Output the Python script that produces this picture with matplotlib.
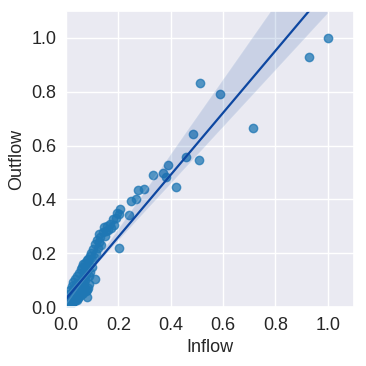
import matplotlib
matplotlib.use("Agg")
import matplotlib.pyplot as plt
import seaborn as sns
import pandas as pd

# Inflow / outflow values
inflow = [
    # heavy blob right at the origin
    0.001, 0.002, 0.003, 0.004, 0.005, 0.006, 0.007, 0.008, 0.009, 0.010,
    0.012, 0.014, 0.016, 0.018, 0.020, 0.022, 0.024, 0.026, 0.028, 0.030,
    0.032, 0.034, 0.036, 0.038, 0.040, 0.042, 0.044, 0.046, 0.048, 0.050,
    0.052, 0.054, 0.056, 0.058, 0.060, 0.062, 0.064, 0.066, 0.068, 0.070,
    0.015, 0.025, 0.035, 0.045, 0.055, 0.065, 0.075, 0.080, 0.085, 0.090,
    # dense band above the fit line
    0.002, 0.004, 0.006, 0.008, 0.010, 0.012, 0.014, 0.016, 0.018, 0.020,
    0.022, 0.024, 0.026, 0.028, 0.030, 0.032, 0.034, 0.036, 0.038, 0.040,
    0.042, 0.044, 0.046, 0.048, 0.050,
    0.052, 0.054, 0.056, 0.058, 0.060, 0.062, 0.064, 0.066, 0.068, 0.070,
    0.072, 0.074, 0.076, 0.078, 0.080, 0.082, 0.084, 0.086, 0.088, 0.090,
    0.092, 0.094, 0.096, 0.098, 0.100,
    0.104, 0.108, 0.110, 0.112, 0.116, 0.120, 0.124, 0.126, 0.128, 0.132,
    0.136, 0.140, 0.145, 0.148, 0.153, 0.158, 0.162, 0.168, 0.172, 0.179,
    0.183, 0.190, 0.195, 0.202, 0.206, 0.202,
    # middle and upper points
    0.240, 0.248, 0.267, 0.275, 0.300, 0.332, 0.370, 0.382, 0.389, 0.420,
    0.457, 0.509, 0.487, 0.511, 0.590, 0.714, 0.927, 1.000,
]
outflow = [
    0.000, 0.004, 0.002, 0.008, 0.003, 0.010, 0.005, 0.012, 0.006, 0.015,
    0.008, 0.020, 0.010, 0.024, 0.014, 0.028, 0.018, 0.030, 0.020, 0.034,
    0.022, 0.038, 0.026, 0.030, 0.042, 0.028, 0.045, 0.035, 0.050, 0.040,
    0.045, 0.055, 0.048, 0.060, 0.050, 0.065, 0.058, 0.070, 0.060, 0.075,
    0.012, 0.020, 0.028, 0.036, 0.044, 0.052, 0.060, 0.064, 0.070, 0.085,
    0.003, 0.015, 0.006, 0.030, 0.012, 0.050, 0.020, 0.065, 0.010, 0.040,
    0.080, 0.025, 0.055, 0.095, 0.035, 0.070, 0.045, 0.105, 0.030, 0.085,
    0.060, 0.115, 0.050, 0.090, 0.040,
    0.125, 0.070, 0.140, 0.090, 0.150, 0.060, 0.110, 0.160, 0.085, 0.130,
    0.165, 0.100, 0.150, 0.120, 0.175, 0.038, 0.140, 0.180, 0.115, 0.160,
    0.190, 0.130, 0.200, 0.150, 0.175,
    0.215, 0.185, 0.105, 0.235, 0.200, 0.250, 0.220, 0.271, 0.240, 0.260,
    0.230, 0.280, 0.297, 0.265, 0.283, 0.300, 0.285, 0.310, 0.295, 0.327,
    0.305, 0.330, 0.349, 0.346, 0.364, 0.219,
    0.342, 0.394, 0.400, 0.435, 0.440, 0.491, 0.498, 0.483, 0.528, 0.446,
    0.558, 0.545, 0.643, 0.833, 0.792, 0.665, 0.929, 1.000,
]

ticks = [0.0, 0.2, 0.4, 0.6, 0.8, 1.0]

df = pd.DataFrame({"Inflow": inflow, "Outflow": outflow})

sns.set_theme(style="darkgrid")
plt.rcParams["font.family"] = ["Liberation Sans", "DejaVu Sans"]

fig = plt.figure(figsize=(3.66, 3.66), dpi=100)
ax = fig.add_axes([0.18, 0.161, 0.787, 0.809])

sns.regplot(data=df, x="Inflow", y="Outflow", ax=ax, seed=0,
            line_kws={"color": "#0d47a1", "lw": 1.6},
            scatter_kws={"color": "#1f77b4", "alpha": 0.75})

ax.set_xlim(0, 1.1)
ax.set_ylim(0, 1.1)
ax.set_xticks(ticks)
ax.set_yticks(ticks)
ax.tick_params(labelsize=13, pad=1)
ax.xaxis.label.set_size(13)
ax.yaxis.label.set_size(13)

fig.savefig("out.png", dpi=100)
